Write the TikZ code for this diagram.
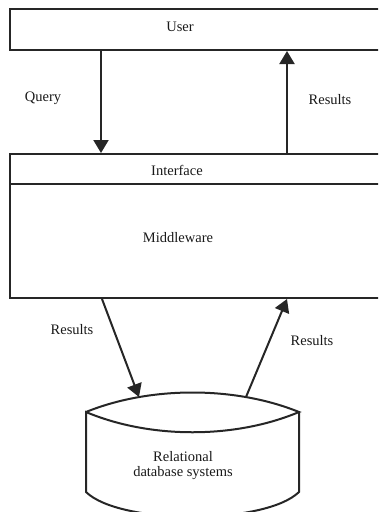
\documentclass[tikz,border=0pt]{standalone}
\usepackage{fontspec}
\setmainfont{Liberation Serif}
\usetikzlibrary{arrows.meta}
\begin{document}
\begin{tikzpicture}[x=1pt,y=-1pt,
  box/.style={draw=black!85, line width=2pt},
  lbl/.style={font=\fontsize{14.5}{15}\selectfont, text=black!90, inner sep=0pt},
  arr/.style={draw=black!85, line width=2pt, -{Triangle[length=13pt,width=15pt]}}]
\useasboundingbox (0,0) rectangle (378,512);
\clip (0,0) rectangle (378,512);
% boxes
\node[box, anchor=north west, minimum width=383pt, minimum height=41pt, inner sep=0pt] (user) at (9,8) {};
\node[box, anchor=north west, minimum width=383pt, minimum height=144pt, inner sep=0pt] (mw) at (9,153) {};
\coordinate (divL) at (9,184);
\coordinate (divR) at (392,184);
\draw[box] (divL) -- (divR);
% database cylinder
\draw[box] (86,412) .. controls (150,386) and (235,386) .. (299,412)
  .. controls (235,439) and (150,439) .. (86,412) -- (86,492)
  .. controls (120,525) and (265,525) .. (299,492) -- (299,412);
\coordinate (dbin) at (139,397);
\coordinate (dbout) at (246,397);
% texts
\node[lbl] (tuser) at (180,27) {User};
\node[lbl] (tquery) at (43,98) {Query};
\node[lbl] (tres1) at (330,100) {Results};
\node[lbl] (tif) at (177,170) {Interface};
\node[lbl] (tmw) at (178,238) {Middleware};
\node[lbl] (tres2) at (72,330) {Results};
\node[lbl] (tres3) at (312,341) {Results};
\node[lbl, align=center] (tdb) at (183,466) {Relational\\database systems};
% connectors
\draw[arr] (user.south -| 101,0) -- (mw.north -| 101,0);
\draw[arr] (mw.north -| 287,0) -- (user.south -| 287,0);
\draw[arr] (mw.south -| 102,0) -- (dbin);
\draw[arr] (dbout) -- (mw.south -| 287,0);
\end{tikzpicture}
\end{document}
